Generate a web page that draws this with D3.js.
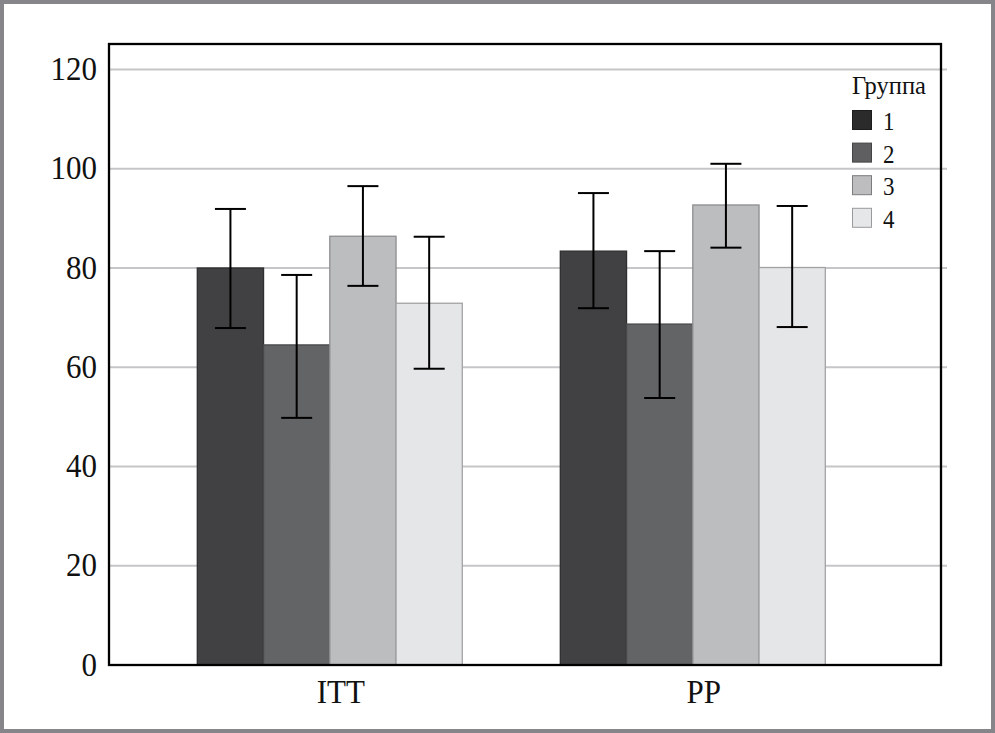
<!DOCTYPE html>
<html>
<head>
<meta charset="utf-8">
<script src="https://cdn.jsdelivr.net/npm/d3@7"></script>
<style>
  html, body { margin: 0; padding: 0; background: #fff; }
  svg { display: block; }
</style>
</head>
<body>
<div id="chart"></div>
<script>
// data
var groups = ["ITT", "PP"];
var series = ["1", "2", "3", "4"];
var meanITT = [80.0, 64.5, 86.4, 72.9];
var lowITT  = [67.9, 49.8, 76.4, 59.7];
var highITT = [91.9, 78.6, 96.5, 86.3];
var meanPP  = [83.4, 68.7, 92.7, 80.1];
var lowPP   = [71.9, 53.8, 84.1, 68.1];
var highPP  = [95.1, 83.4, 101.0, 92.5];
var yTicks = [0, 20, 40, 60, 80, 100, 120];

var legendTitle = "Группа";
var barFill   = ["#414143", "#636466", "#bcbdbf", "#e5e6e7"];
var barStroke = ["#2f2f30", "#48484a", "#8e8e90", "#a2a2a4"];
var keyFill   = ["#2b2b2c", "#5f5f61", "#bdbdbf", "#e6e7e8"];
var keyStroke = ["#1c1c1c", "#444", "#7c7c7e", "#9a9a9c"];

var serif = '"Liberation Serif", "Times New Roman", Times, "DejaVu Serif", serif';
var W = 995, H = 733;
var plot = { left: 109, right: 941, top: 44, bottom: 665 };

function buildRows(){
  var rows = [];
  var means = [meanITT, meanPP], lows = [lowITT, lowPP], highs = [highITT, highPP];
  for(var g = 0; g < groups.length; g++){
    for(var s = 0; s < series.length; s++){
      rows.push({ group: groups[g], series: series[s], idx: s,
                  mean: means[g][s], low: lows[g][s], high: highs[g][s] });
    }
  }
  return rows;
}

function draw(){
  var svg = d3.select("#chart").append("svg")
      .attr("width", W).attr("height", H);

  // outer grey frame
  svg.append("rect").attr("x", 0).attr("y", 0).attr("width", W).attr("height", H)
      .attr("fill", "#86868a");
  svg.append("rect").attr("x", 4).attr("y", 4).attr("width", W - 8).attr("height", H - 8)
      .attr("fill", "#fff");

  var y = d3.scaleLinear().domain([0, 120]).range([plot.bottom, 69.5]);

  var x0 = d3.scaleBand().domain(groups).range([148.3, 874.3])
      .paddingInner(0.27).paddingOuter(0.135);
  var x1 = d3.scaleBand().domain(series).range([0, x0.bandwidth()]);

  // grid lines (they run a little past the right edge of the box)
  svg.append("g").selectAll("line")
      .data(yTicks.filter(function(d){ return d > 0; }))
      .enter().append("line")
      .attr("x1", plot.left).attr("x2", 947)
      .attr("y1", function(d){ return y(d); })
      .attr("y2", function(d){ return y(d); })
      .attr("stroke", "#c6c6c8").attr("stroke-width", 2);

  var rows = buildRows();

  svg.append("g").selectAll("rect")
      .data(rows).enter().append("rect")
      .attr("x", function(d){ return x0(d.group) + x1(d.series); })
      .attr("y", function(d){ return y(d.mean); })
      .attr("width", x1.bandwidth())
      .attr("height", function(d){ return y(0) - y(d.mean); })
      .attr("fill", function(d){ return barFill[d.idx]; })
      .attr("stroke", function(d){ return barStroke[d.idx]; })
      .attr("stroke-width", 1.3);

  // error bars
  var cap = 15.5;
  var err = svg.append("g").selectAll("g")
      .data(rows).enter().append("g")
      .attr("stroke", "#000").attr("stroke-width", 2);
  function cx(d){ return x0(d.group) + x1(d.series) + x1.bandwidth() / 2; }
  err.append("line")
      .attr("x1", cx).attr("x2", cx)
      .attr("y1", function(d){ return y(d.low); })
      .attr("y2", function(d){ return y(d.high); });
  err.append("line")
      .attr("x1", function(d){ return cx(d) - cap; })
      .attr("x2", function(d){ return cx(d) + cap; })
      .attr("y1", function(d){ return y(d.high); })
      .attr("y2", function(d){ return y(d.high); });
  err.append("line")
      .attr("x1", function(d){ return cx(d) - cap; })
      .attr("x2", function(d){ return cx(d) + cap; })
      .attr("y1", function(d){ return y(d.low); })
      .attr("y2", function(d){ return y(d.low); });

  // plot box
  svg.append("rect")
      .attr("x", plot.left).attr("y", plot.top)
      .attr("width", plot.right - plot.left).attr("height", plot.bottom - plot.top)
      .attr("fill", "none").attr("stroke", "#000").attr("stroke-width", 2.3);

  // y axis labels, text slightly stretched vertically like the source
  var yAxis = d3.axisLeft(y).tickValues(yTicks).tickSize(0).tickPadding(0);
  var ya = svg.append("g").attr("transform", "translate(97,0)").call(yAxis)
      .attr("font-family", serif);
  ya.select(".domain").remove();
  ya.selectAll("text")
      .attr("x", null).attr("dy", null)
      .style("font-family", serif)
      .style("font-size", "31px")
      .style("fill", "#111")
      .attr("transform", "translate(0,10) scale(1,1.1)");

  // x labels
  var xAxis = d3.axisBottom(x0).tickSize(0).tickPadding(0);
  var xa = svg.append("g").attr("transform", "translate(11,0)").call(xAxis)
      .attr("font-family", serif);
  xa.select(".domain").remove();
  xa.selectAll("text")
      .attr("y", null).attr("dy", null)
      .style("font-family", serif)
      .style("font-size", "31px")
      .style("fill", "#111")
      .attr("transform", "translate(0,703) scale(1,1.08)");

  // legend
  var lg = svg.append("g").attr("transform", "translate(852,0)")
      .style("font-family", serif);
  lg.append("text").text(legendTitle)
      .attr("transform", "translate(0,94)")
      .style("font-family", serif)
      .style("font-size", "24.5px")
      .style("fill", "#111");
  var item = lg.selectAll(".key").data(series).enter().append("g")
      .attr("class", "key")
      .attr("transform", function(d, i){ return "translate(0," + (110 + i * 32.6) + ")"; });
  item.append("rect")
      .attr("x", 0.5).attr("y", 0.5).attr("width", 19).attr("height", 19)
      .attr("fill", function(d, i){ return keyFill[i]; })
      .attr("stroke", function(d, i){ return keyStroke[i]; })
      .attr("stroke-width", 1);
  item.append("text").text(function(d){ return d; })
      .attr("transform", "translate(31,20) scale(1,1.12)")
      .style("font-family", serif)
      .style("font-size", "23px")
      .style("fill", "#111");
}

draw();
</script>
</body>
</html>
